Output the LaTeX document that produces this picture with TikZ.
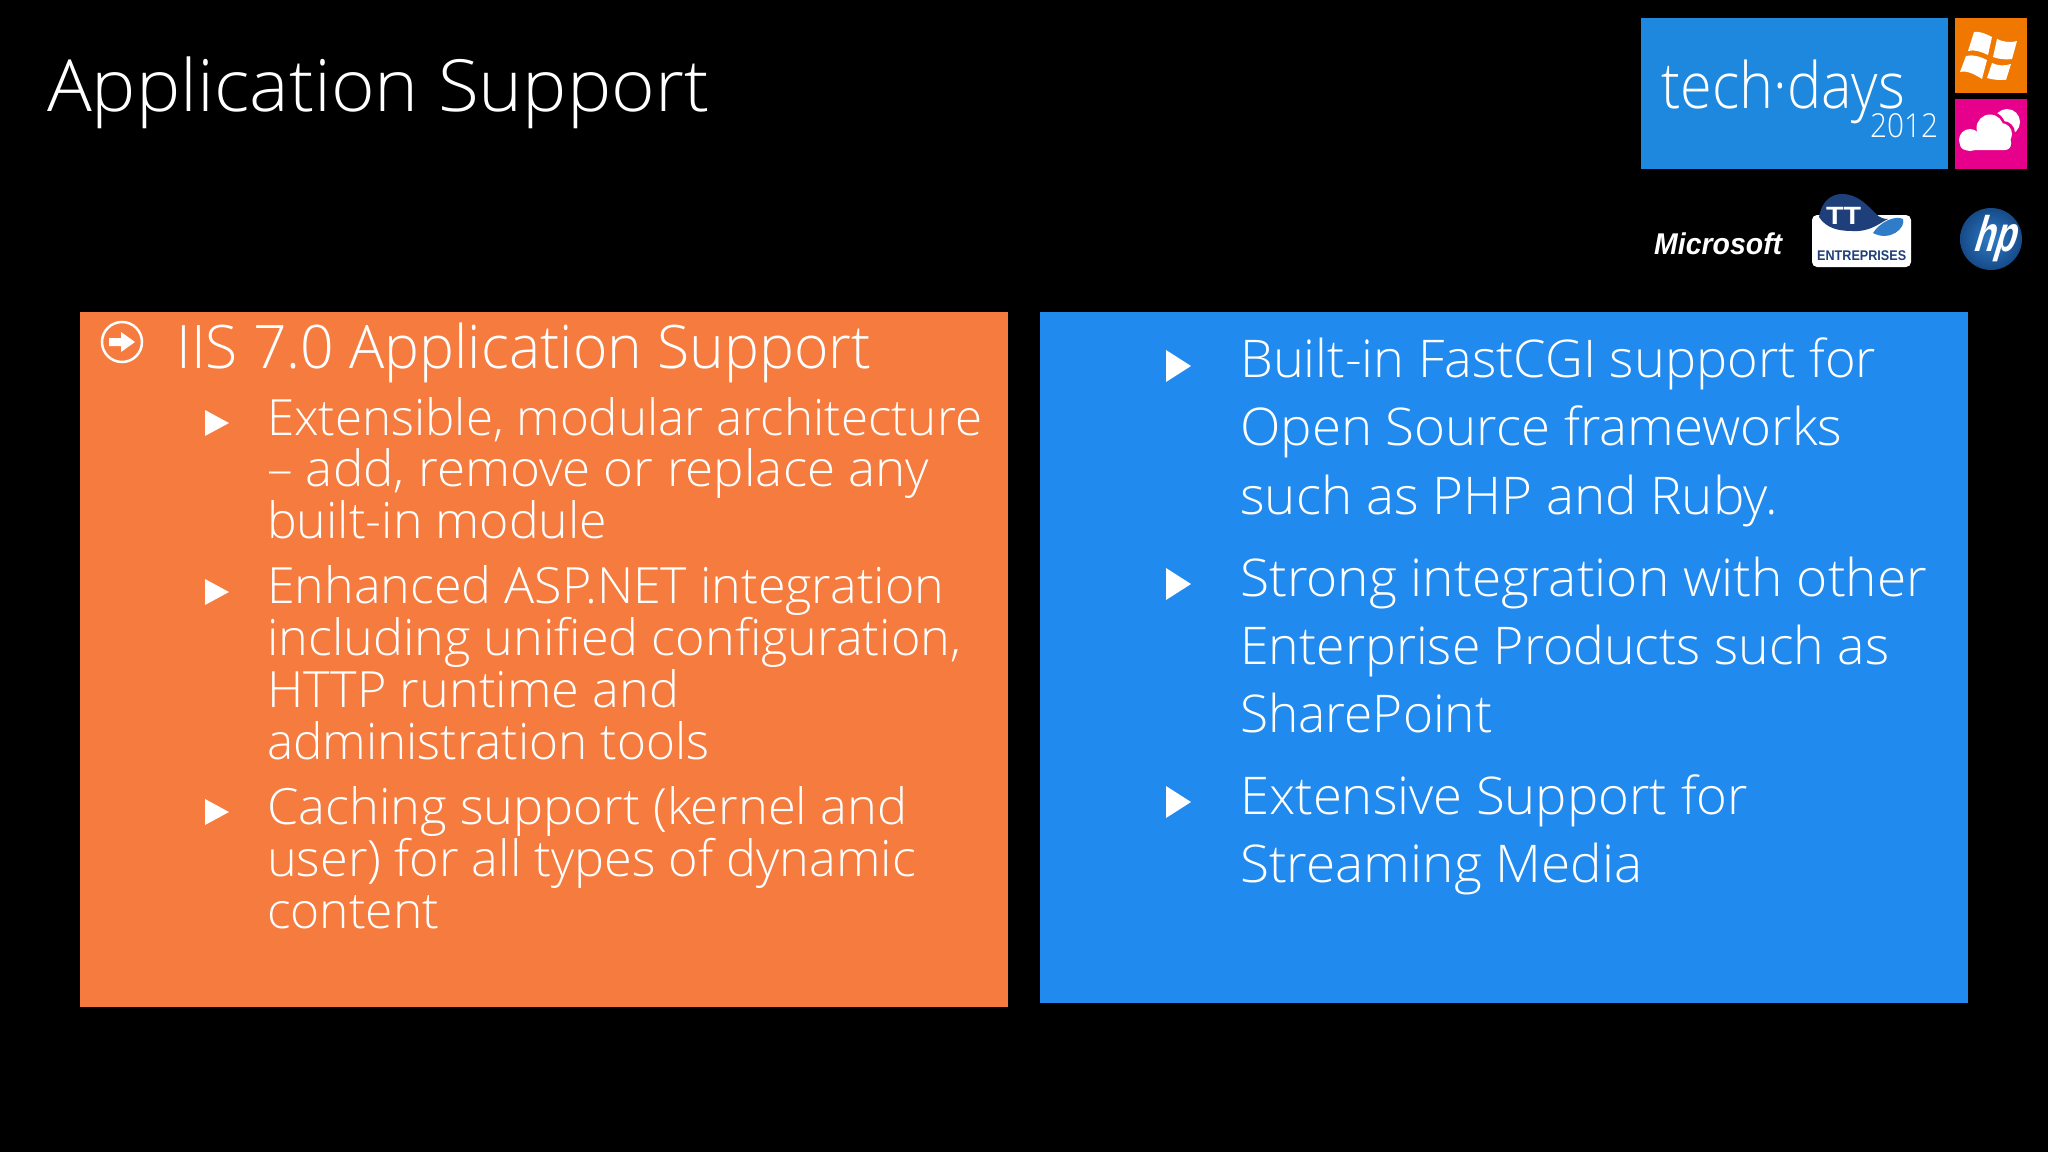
\documentclass[tikz,border=0pt]{standalone}
\usepackage{graphicx}
\usepackage{fontspec}
\setmainfont[Ligatures=CommonOff]{Open Sans Light}
\newfontfamily\boldit{Liberation Sans Bold Italic}
\newfontfamily\boldsans{Liberation Sans Bold}
\definecolor{panelorange}{HTML}{F57B3E}
\definecolor{panelblue}{HTML}{218AEE}
\definecolor{tilebluec}{HTML}{1E88DE}
\definecolor{tileorange}{HTML}{F07800}
\definecolor{tilepink}{HTML}{E6008C}
\definecolor{ttnavy}{HTML}{1F3F7A}
\definecolor{hpblue}{HTML}{2F7CC8}
\definecolor{hpdark}{HTML}{164A88}
\newcommand{\fitw}[2]{\resizebox{#1pt}{\height}{#2}}
\tikzset{
  txt/.style={anchor=base west,inner sep=0pt,text=white},
  title/.style={txt,font=\fontsize{72}{72}\selectfont},
  headline/.style={txt,font=\fontsize{60}{60}\selectfont},
  subline/.style={txt,font=\fontsize{50}{50}\selectfont},
  bigline/.style={txt,font=\fontsize{52}{52}\selectfont},
  tri/.style={fill=white,draw=none}
}
\begin{document}
\begin{tikzpicture}[x=1pt,y=-1pt]
\useasboundingbox (0,0) rectangle (2048,1152);
\fill[black] (0,0) rectangle (2048,1152);
\node[title] (ttl) at (47,111) {\fitw{662}{Application Support}};
% panels
\fill[panelorange] (80,312) rectangle (1008,1007);
\fill[panelblue] (1040,312) rectangle (1968,1003);
% logo tiles
\fill[tilebluec] (1641,18) rectangle (1948,169);
\fill[tileorange] (1955,18) rectangle (2027,93);
\fill[tilepink] (1955,99) rectangle (2027,169);
\node[txt,font=\fontsize{64}{64}\selectfont] (tech) at (1661,108) {\fitw{244}{tech·days}};
\node[txt,font=\fontsize{33}{33}\selectfont] (year) at (1870,137) {\fitw{68}{2012}};
% windows flag
\fill[white] (1974,32) .. controls (1980,31) and (1986,34) .. (1992,37) -- (1988,55) .. controls (1982,52) and (1974,49) .. (1968,51) -- cycle;
\fill[white] (1997,39) .. controls (2003,42) and (2011,43) .. (2017,41) -- (2012,59) .. controls (2006,60) and (1998,59) .. (1993,57) -- cycle;
\fill[white] (1966,56) .. controls (1973,54) and (1981,57) .. (1987,60) -- (1982,79) .. controls (1976,75) and (1967,70) .. (1960,72) -- cycle;
\fill[white] (1992,63) .. controls (1998,66) and (2005,66) .. (2011,64) -- (2006,80) .. controls (2000,80) and (1993,80) .. (1987,78) -- cycle;
% cloud
\fill[white] (2007,122) circle (13);
\fill[tilepink] (1990,127) circle (15.5);
\fill[tilepink] (2003,133) circle (12);
\fill[white] (1990,128) circle (13.5);
\fill[white] (2001,134) circle (11);
\fill[white] (1970,140) circle (11);
\fill[white,rounded corners=6pt] (1960,136) rectangle (2011,150);
% microsoft
\node[txt,font=\boldit\fontsize{30}{30}\selectfont] (ms) at (1654,254) {\fitw{128}{Microsoft}};
% TT entreprises
\fill[white,rounded corners=5pt] (1812,215) rectangle (1911,267);
\fill[ttnavy] (1819,217) .. controls (1822,200) and (1832,194) .. (1842,194) .. controls (1858,194) and (1868,206) .. (1876,214) .. controls (1880,218) and (1884,219) .. (1888,219) .. controls (1878,224) and (1870,232) .. (1852,231) .. controls (1838,231) and (1826,228) .. (1819,217) -- cycle;
\fill[hpblue] (1873,233) .. controls (1880,222) and (1895,215) .. (1903,219) .. controls (1906,228) and (1890,242) .. (1873,233) -- cycle;
\node[txt,font=\boldsans\fontsize{25}{25}\selectfont] (tt) at (1826,224) {\fitw{35}{TT}};
\node[txt,text=ttnavy,font=\boldsans\fontsize{14}{14}\selectfont] (ent) at (1817,260) {\fitw{89}{ENTREPRISES}};
% hp
\shade[inner color=hpblue,outer color=hpdark] (1991,239) circle (31);
\begin{scope}[shift={(1972,251)},xslant=0.3]
\node[txt,transform shape,font=\boldsans\fontsize{50}{50}\selectfont] (hp) at (0,0) {\fitw{42}{hp}};
\end{scope}
% left panel
\draw[white,line width=2.5pt] (122,342) circle (20);
\fill[white] (109,338) -- (121,338) -- (121,332) -- (135,342) -- (121,352) -- (121,346) -- (109,346) -- cycle;
\node[headline] (h) at (176,368) {\fitw{695}{IIS 7.0 Application Support}};
\fill[tri] (205,410) -- (229,423) -- (205,436) -- cycle;
\fill[tri] (205,579) -- (229,592) -- (205,605) -- cycle;
\fill[tri] (205,799) -- (229,812) -- (205,825) -- cycle;
\node[subline] (a1) at (267,435) {\fitw{715}{Extensible, modular architecture}};
\node[subline] (a2) at (267,486) {\fitw{662}{– add, remove or replace any}};
\node[subline] (a3) at (267,538) {\fitw{340}{built-in module}};
\node[subline] (b1) at (267,603) {\fitw{677}{Enhanced ASP.NET integration}};
\node[subline] (b2) at (267,655) {\fitw{694}{including unified configuration,}};
\node[subline] (b3) at (267,707) {\fitw{412}{HTTP runtime and}};
\node[subline] (b4) at (267,759) {\fitw{442}{administration tools}};
\node[subline] (c1) at (267,824) {\fitw{640}{Caching support (kernel and}};
\node[subline] (c2) at (267,876) {\fitw{649}{user) for all types of dynamic}};
\node[subline] (c3) at (267,928) {\fitw{172}{content}};
% right panel
\fill[tri] (1166,350) -- (1191,366) -- (1166,382) -- cycle;
\fill[tri] (1166,568) -- (1191,584) -- (1166,600) -- cycle;
\fill[tri] (1166,786) -- (1191,802) -- (1166,818) -- cycle;
\node[bigline] (d1) at (1240,377) {\fitw{636}{Built-in FastCGI support for}};
\node[bigline] (d2) at (1240,445) {\fitw{602}{Open Source frameworks}};
\node[bigline] (d3) at (1240,514) {\fitw{538}{such as PHP and Ruby.}};
\node[bigline] (e1) at (1240,596) {\fitw{687}{Strong integration with other}};
\node[bigline] (e2) at (1240,664) {\fitw{649}{Enterprise Products such as}};
\node[bigline] (e3) at (1240,732) {\fitw{252}{SharePoint}};
\node[bigline] (f1) at (1240,814) {\fitw{508}{Extensive Support for}};
\node[bigline] (f2) at (1240,882) {\fitw{402}{Streaming Media}};
\end{tikzpicture}
\end{document}
